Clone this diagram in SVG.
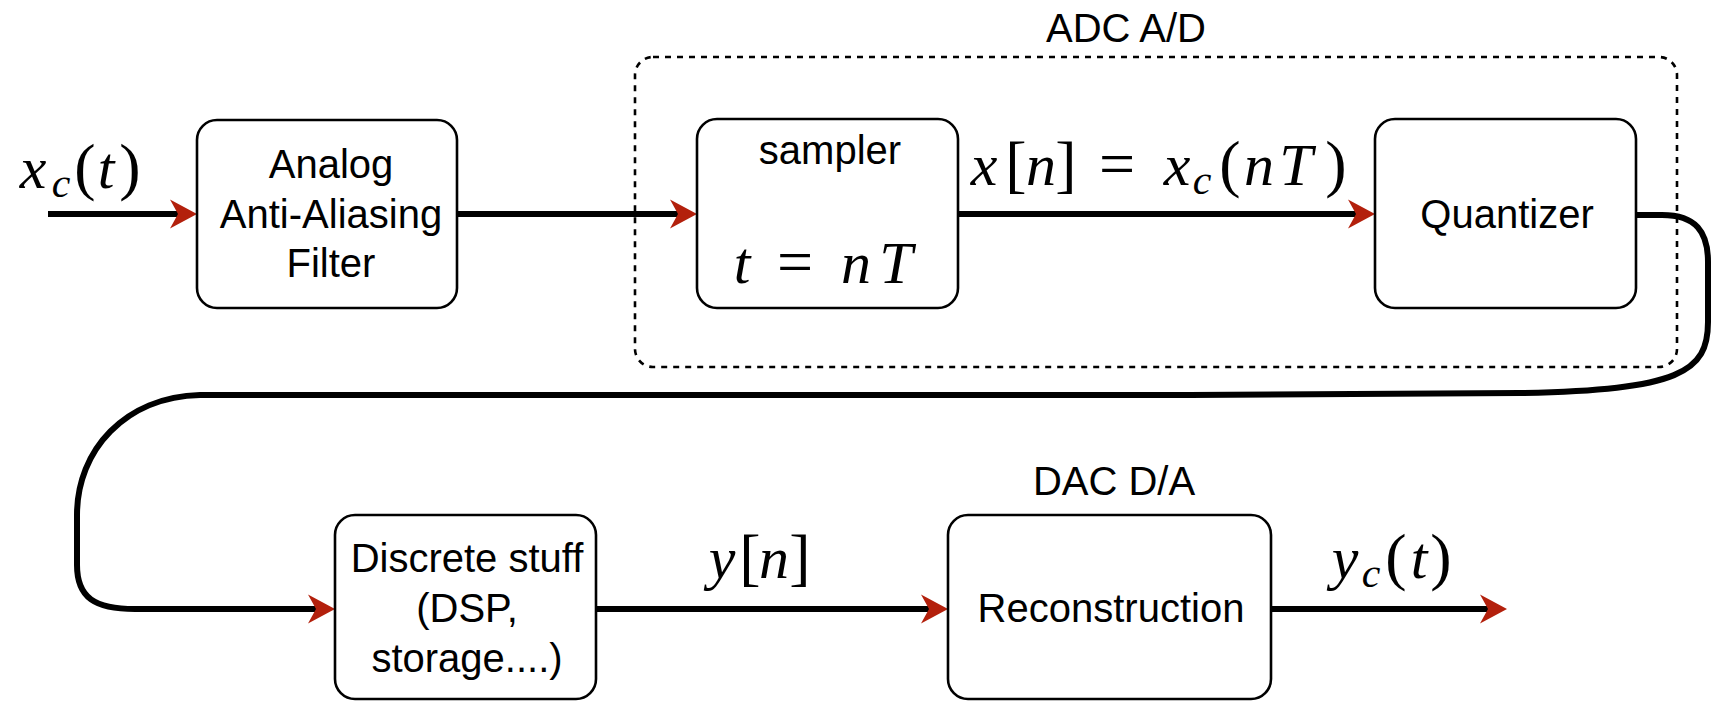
<svg xmlns="http://www.w3.org/2000/svg" width="1711" height="702" viewBox="0 0 1711 702">
<style>
.box{fill:#fff;stroke:#000;stroke-width:2.6}
.grp{fill:none;stroke:#000;stroke-width:2.6;stroke-dasharray:6 6}
.lbl{font-family:"Liberation Sans",Arial,sans-serif;font-size:40px;text-anchor:middle;fill:#000}
.con{fill:none;stroke:#000;stroke-width:6;stroke-linejoin:round}
.m{font-family:"Liberation Serif","Times New Roman",serif;font-style:italic;font-size:60px;text-anchor:middle;fill:#000}
.ms{font-family:"Liberation Serif","Times New Roman",serif;font-style:italic;font-size:42px;text-anchor:middle;fill:#000}
.mr{font-family:"Liberation Serif","Times New Roman",serif;font-size:64px;text-anchor:middle;fill:#000}
</style>
<defs>
<marker id="arr" viewBox="0 -15 28 30" refX="17" refY="0" markerWidth="28" markerHeight="30" markerUnits="userSpaceOnUse" orient="auto">
<path d="M0,-14.5 L27,0 L0,14.5 L8,0 Z" fill="#b3200c"/>
</marker>
</defs>
<g id="adc-group">
<rect class="grp" x="635" y="57" width="1042" height="310" rx="18" ry="18"/>
<text class="lbl" x="1126" y="42">ADC A/D</text>
</g>
<g id="connectors">
<path class="con" d="M48,214 L187,214" marker-end="url(#arr)"/>
<path class="con" d="M457,214 L687,214" marker-end="url(#arr)"/>
<path class="con" d="M958,214 L1365,214" marker-end="url(#arr)"/>
<path class="con" d="M1636,215 L1662,215 C1696,215 1708,232 1708,262 L1708,322 C1708,372 1680,390 1520,393 L1190,395 L200,395 C125,397 77,450 77,515 L77,565 C77,598 95,609 135,609 L325,609" marker-end="url(#arr)"/>
<path class="con" d="M596,609 L938,609" marker-end="url(#arr)"/>
<path class="con" d="M1271,609 L1497,609" marker-end="url(#arr)"/>
</g>
<g id="label-xc">
<text class="m" x="33" y="188">x</text>
<text class="ms" x="61" y="197">c</text>
<text class="mr" x="85" y="188">(</text>
<text class="m" x="106" y="188">t</text>
<text class="mr" x="130" y="188">)</text>
</g>
<g id="analog">
<rect class="box" x="197" y="120" width="260" height="188" rx="20" ry="20"/>
<text class="lbl" x="331" y="178">Analog</text>
<text class="lbl" x="331" y="228">Anti-Aliasing</text>
<text class="lbl" x="331" y="277">Filter</text>
</g>
<g id="sampler">
<rect class="box" x="697" y="119" width="261" height="189" rx="20" ry="20"/>
<text class="lbl" x="830" y="164">sampler</text>
<text class="m" x="742" y="283">t</text>
<text class="mr" x="795" y="283">=</text>
<text class="m" x="856" y="283">n</text>
<text class="m" x="896" y="283">T</text>
</g>
<g id="label-xn">
<text class="m" x="984" y="185">x</text>
<text class="mr" x="1016" y="185">[</text>
<text class="m" x="1041" y="185">n</text>
<text class="mr" x="1066" y="185">]</text>
<text class="mr" x="1117" y="185">=</text>
<text class="m" x="1177" y="185">x</text>
<text class="ms" x="1202" y="194">c</text>
<text class="mr" x="1230" y="185">(</text>
<text class="m" x="1259" y="185">n</text>
<text class="m" x="1296" y="185">T</text>
<text class="mr" x="1336" y="185">)</text>
</g>
<g id="quantizer">
<rect class="box" x="1375" y="119" width="261" height="189" rx="20" ry="20"/>
<text class="lbl" x="1507" y="228">Quantizer</text>
</g>
<g id="discrete">
<rect class="box" x="335" y="515" width="261" height="184" rx="20" ry="20"/>
<text class="lbl" x="467" y="572">Discrete stuff</text>
<text class="lbl" x="467" y="622">(DSP,</text>
<text class="lbl" x="467" y="672">storage....)</text>
</g>
<g id="label-yn">
<text class="m" x="722" y="578">y</text>
<text class="mr" x="750" y="578">[</text>
<text class="m" x="774" y="578">n</text>
<text class="mr" x="800" y="578">]</text>
</g>
<g id="reconstruction">
<rect class="box" x="948" y="515" width="323" height="184" rx="20" ry="20"/>
<text class="lbl" x="1111" y="622">Reconstruction</text>
<text class="lbl" x="1114" y="495">DAC D/A</text>
</g>
<g id="label-yc">
<text class="m" x="1345" y="578">y</text>
<text class="ms" x="1371" y="587">c</text>
<text class="mr" x="1396" y="578">(</text>
<text class="m" x="1419" y="578">t</text>
<text class="mr" x="1441" y="578">)</text>
</g>
</svg>
